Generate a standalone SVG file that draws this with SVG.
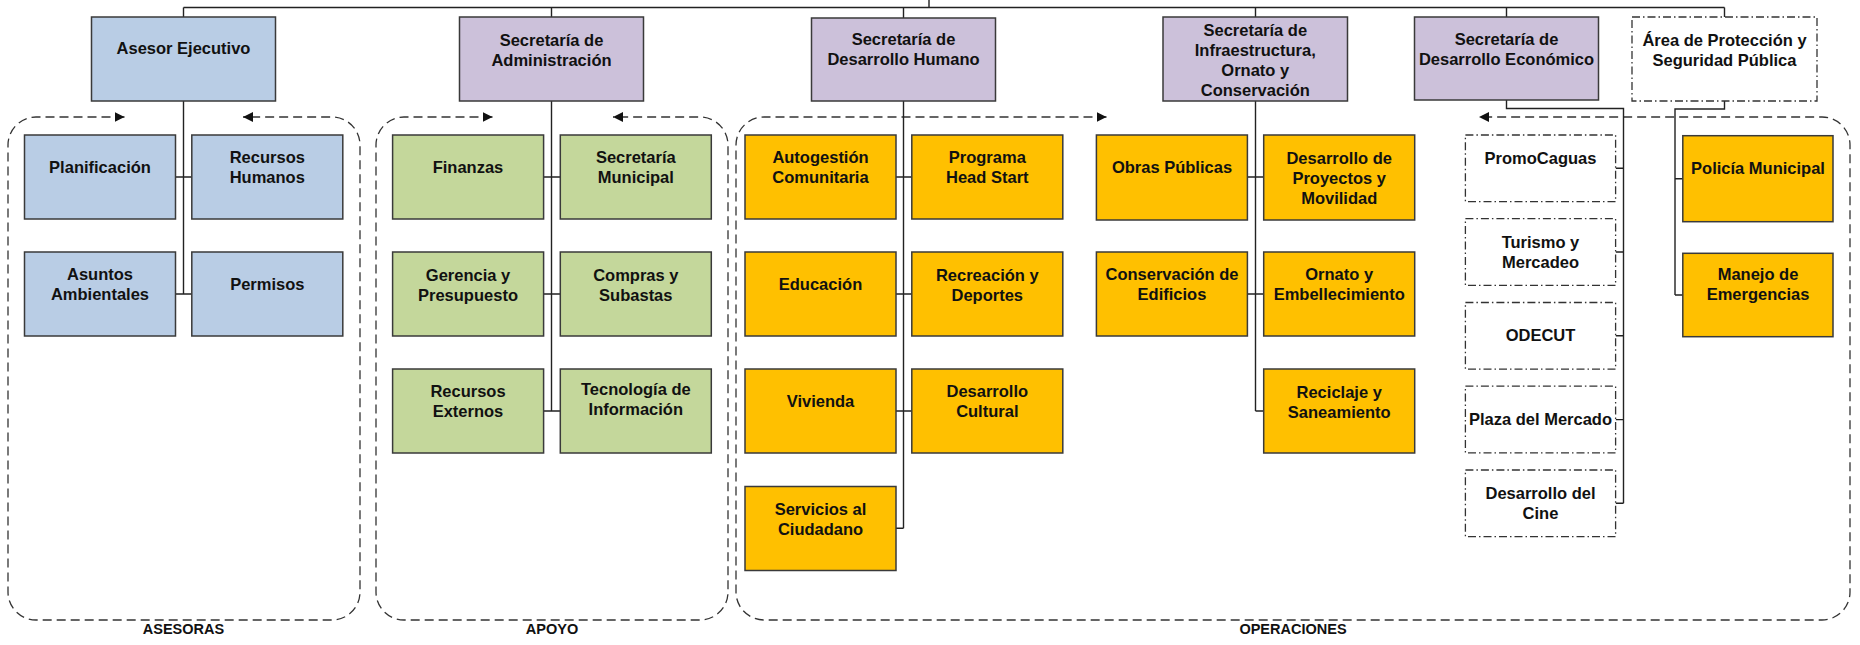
<svg xmlns="http://www.w3.org/2000/svg" width="1860" height="645" viewBox="0 0 1860 645">
<defs>
<marker id="arr" viewBox="0 0 10 10" refX="10" refY="5" markerWidth="10" markerHeight="10" markerUnits="userSpaceOnUse" orient="auto-start-reverse">
<path d="M0,0 L10,5 L0,10 Z" fill="#111" stroke="none"/>
</marker>
</defs>
<style>
.box{stroke:#3a3a3a;stroke-width:1.5}
.blue{fill:#B9CDE5}
.purple{fill:#CCC1DA}
.green{fill:#C4D79B}
.orange{fill:#FFC000}
.dd{fill:#fff;stroke:#333;stroke-width:1.3;stroke-dasharray:8 3 1.5 3}
.t{font-family:"Liberation Sans",Arial,sans-serif;font-size:16.5px;font-weight:bold;fill:#111;text-anchor:middle}
.lbl{font-family:"Liberation Sans",Arial,sans-serif;font-size:14.5px;font-weight:bold;fill:#111;text-anchor:middle}
.con{fill:none;stroke:#222;stroke-width:1.4}
.grp{fill:none;stroke:#333;stroke-width:1.3;stroke-dasharray:9 5}
</style>
<rect width="1860" height="645" fill="#fff"/>

<g id="groups">
<path class="grp" d="M124.5,117 H36 A28,28 0 0 0 8,145 V592 A28,28 0 0 0 36,620 H332 A28,28 0 0 0 360,592 V145 A28,28 0 0 0 332,117 H243" marker-start="url(#arr)" marker-end="url(#arr)"/>
<path class="grp" d="M492.5,117 H404 A28,28 0 0 0 376,145 V592 A28,28 0 0 0 404,620 H700 A28,28 0 0 0 728,592 V145 A28,28 0 0 0 700,117 H613" marker-start="url(#arr)" marker-end="url(#arr)"/>
<path class="grp" d="M1106.5,117 H764 A28,28 0 0 0 736,145 V592 A28,28 0 0 0 764,620 H1822 A28,28 0 0 0 1850,592 V145 A28,28 0 0 0 1822,117 H1479" marker-start="url(#arr)" marker-end="url(#arr)"/>
<text class="lbl" x="183.5" y="634">ASESORAS</text>
<text class="lbl" x="552" y="634">APOYO</text>
<text class="lbl" x="1293" y="634">OPERACIONES</text>
</g>

<g id="connectors">
<path class="con" d="M929,0 V7.5 M183.5,7.5 H1724.5 M183.5,7.5 V17 M551.5,7.5 V17 M903.5,7.5 V18 M1255.5,7.5 V17 M1506.5,7.5 V17 M1724.5,7.5 V17"/>
<path class="con" d="M183.5,101 V294 M175.5,177 H191.8 M175.5,294 H191.8"/>
<path class="con" d="M551.5,101 V411 M543.6,177 H560.3 M543.6,294 H560.3 M543.6,411 H560.3"/>
<path class="con" d="M903.5,101 V528.3 M896,177 H911.8 M896,294 H911.8 M896,411 H911.8 M896,528.3 H903.5"/>
<path class="con" d="M1255.5,101 V411 M1247.4,177 H1263.7 M1247.4,294 H1263.7 M1255.5,411 H1263.7"/>
<path class="con" d="M1506.5,100 V108.5 H1623.5 V503.3 M1615.6,168.3 H1623.5 M1615.6,252 H1623.5 M1615.6,335.8 H1623.5 M1615.6,419.6 H1623.5 M1615.6,503.3 H1623.5"/>
<path class="con" d="M1724.5,101 V109 H1675 V295 M1675,178.7 H1682.8 M1675,295 H1682.8"/>
</g>

<g id="asesor"><rect class="box blue" x="91.5" y="17" width="184" height="84"/><text class="t" x="183.5" y="54">Asesor Ejecutivo</text></g>
<g id="admin"><rect class="box purple" x="459.5" y="17" width="184" height="84"/><text class="t" x="551.5" y="45.5">Secretaría de</text><text class="t" x="551.5" y="65.5">Administración</text></g>
<g id="dhumano"><rect class="box purple" x="811.5" y="18" width="184" height="83"/><text class="t" x="903.5" y="45">Secretaría de</text><text class="t" x="903.5" y="65">Desarrollo Humano</text></g>
<g id="infra"><rect class="box purple" x="1163" y="17" width="184.5" height="84"/><text class="t" x="1255.3" y="35.5">Secretaría de</text><text class="t" x="1255.3" y="55.5">Infraestructura,</text><text class="t" x="1255.3" y="75.5">Ornato y</text><text class="t" x="1255.3" y="95.5">Conservación</text></g>
<g id="deconomico"><rect class="box purple" x="1414.5" y="17" width="184" height="83"/><text class="t" x="1506.5" y="44.5">Secretaría de</text><text class="t" x="1506.5" y="64.5">Desarrollo Económico</text></g>
<g id="proteccion"><rect class="dd" x="1632" y="17" width="185" height="84"/><text class="t" x="1724.5" y="45.5">Área de Protección y</text><text class="t" x="1724.5" y="65.5">Seguridad Pública</text></g>

<g id="planificacion"><rect class="box blue" x="24.5" y="135" width="151" height="84"/><text class="t" x="100" y="173">Planificación</text></g>
<g id="rrhh"><rect class="box blue" x="191.8" y="135" width="151" height="84"/><text class="t" x="267.3" y="163">Recursos</text><text class="t" x="267.3" y="183">Humanos</text></g>
<g id="ambientales"><rect class="box blue" x="24.5" y="252" width="151" height="84"/><text class="t" x="100" y="279.5">Asuntos</text><text class="t" x="100" y="299.5">Ambientales</text></g>
<g id="permisos"><rect class="box blue" x="191.8" y="252" width="151" height="84"/><text class="t" x="267.3" y="289.5">Permisos</text></g>

<g id="finanzas"><rect class="box green" x="392.6" y="135" width="151" height="84"/><text class="t" x="468" y="173">Finanzas</text></g>
<g id="secmunicipal"><rect class="box green" x="560.3" y="135" width="151" height="84"/><text class="t" x="635.8" y="163">Secretaría</text><text class="t" x="635.8" y="183">Municipal</text></g>
<g id="gerencia"><rect class="box green" x="392.6" y="252" width="151" height="84"/><text class="t" x="468" y="280.5">Gerencia y</text><text class="t" x="468" y="300.5">Presupuesto</text></g>
<g id="compras"><rect class="box green" x="560.3" y="252" width="151" height="84"/><text class="t" x="635.8" y="280.5">Compras y</text><text class="t" x="635.8" y="300.5">Subastas</text></g>
<g id="rexternos"><rect class="box green" x="392.6" y="369" width="151" height="84"/><text class="t" x="468" y="397">Recursos</text><text class="t" x="468" y="417">Externos</text></g>
<g id="tecnologia"><rect class="box green" x="560.3" y="369" width="151" height="84"/><text class="t" x="635.8" y="395">Tecnología de</text><text class="t" x="635.8" y="415">Información</text></g>

<g id="autogestion"><rect class="box orange" x="745" y="135" width="151" height="84"/><text class="t" x="820.5" y="163">Autogestión</text><text class="t" x="820.5" y="183">Comunitaria</text></g>
<g id="headstart"><rect class="box orange" x="911.8" y="135" width="151" height="84"/><text class="t" x="987.3" y="163">Programa</text><text class="t" x="987.3" y="183">Head Start</text></g>
<g id="educacion"><rect class="box orange" x="745" y="252" width="151" height="84"/><text class="t" x="820.5" y="289.5">Educación</text></g>
<g id="recreacion"><rect class="box orange" x="911.8" y="252" width="151" height="84"/><text class="t" x="987.3" y="280.5">Recreación y</text><text class="t" x="987.3" y="300.5">Deportes</text></g>
<g id="vivienda"><rect class="box orange" x="745" y="369" width="151" height="84"/><text class="t" x="820.5" y="407">Vivienda</text></g>
<g id="cultural"><rect class="box orange" x="911.8" y="369" width="151" height="84"/><text class="t" x="987.3" y="397">Desarrollo</text><text class="t" x="987.3" y="417">Cultural</text></g>
<g id="servicios"><rect class="box orange" x="745" y="486.5" width="151" height="84"/><text class="t" x="820.5" y="514.5">Servicios al</text><text class="t" x="820.5" y="534.5">Ciudadano</text></g>

<g id="obras"><rect class="box orange" x="1096.4" y="135" width="151" height="85"/><text class="t" x="1172" y="172.5">Obras Públicas</text></g>
<g id="proyectos"><rect class="box orange" x="1263.7" y="135" width="151" height="85"/><text class="t" x="1339.2" y="163.5">Desarrollo de</text><text class="t" x="1339.2" y="183.5">Proyectos y</text><text class="t" x="1339.2" y="203.5">Movilidad</text></g>
<g id="edificios"><rect class="box orange" x="1096.4" y="252" width="151" height="84"/><text class="t" x="1172" y="279.5">Conservación de</text><text class="t" x="1172" y="299.5">Edificios</text></g>
<g id="ornato"><rect class="box orange" x="1263.7" y="252" width="151" height="84"/><text class="t" x="1339.2" y="279.5">Ornato y</text><text class="t" x="1339.2" y="299.5">Embellecimiento</text></g>
<g id="reciclaje"><rect class="box orange" x="1263.7" y="369" width="151" height="84"/><text class="t" x="1339.2" y="397.5">Reciclaje y</text><text class="t" x="1339.2" y="417.5">Saneamiento</text></g>

<g id="promocaguas"><rect class="dd" x="1465.4" y="135" width="150.2" height="66.7"/><text class="t" x="1540.5" y="164">PromoCaguas</text></g>
<g id="turismo"><rect class="dd" x="1465.4" y="218.7" width="150.2" height="66.7"/><text class="t" x="1540.5" y="247.5">Turismo y</text><text class="t" x="1540.5" y="267.5">Mercadeo</text></g>
<g id="odecut"><rect class="dd" x="1465.4" y="302.5" width="150.2" height="66.7"/><text class="t" x="1540.5" y="341">ODECUT</text></g>
<g id="plaza"><rect class="dd" x="1465.4" y="386.2" width="150.2" height="66.7"/><text class="t" x="1540.5" y="425">Plaza del Mercado</text></g>
<g id="cine"><rect class="dd" x="1465.4" y="470" width="150.2" height="66.7"/><text class="t" x="1540.5" y="499">Desarrollo del</text><text class="t" x="1540.5" y="519">Cine</text></g>

<g id="policia"><rect class="box orange" x="1682.8" y="135.7" width="150.2" height="86"/><text class="t" x="1758" y="174">Policía Municipal</text></g>
<g id="emergencias"><rect class="box orange" x="1682.8" y="253.3" width="150.2" height="83.4"/><text class="t" x="1758" y="280">Manejo de</text><text class="t" x="1758" y="300">Emergencias</text></g>
</svg>
